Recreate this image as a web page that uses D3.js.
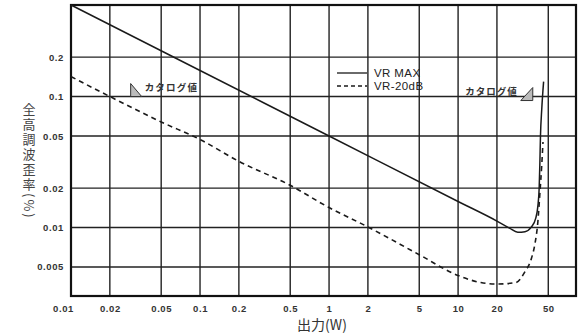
<!DOCTYPE html>
<html><head><meta charset="utf-8">
<script src="https://cdn.jsdelivr.net/npm/d3@7"></script>
<style>body{margin:0;background:#fff;}svg{display:block;}</style>
</head><body>
<svg id="c" width="583" height="335"></svg>
<script>
// ---- data ----
const xTicks = [0.01, 0.02, 0.05, 0.1, 0.2, 0.5, 1, 2, 5, 10, 20, 50];
const xTickLabels = ["0.01","0.02","0.05","0.1","0.2","0.5","1","2","5","10","20","50"];
const yTicks = [0.2, 0.1, 0.05, 0.02, 0.01, 0.005];
const yTickLabels = ["0.2","0.1","0.05","0.02","0.01","0.005"];
const seriesNames = ["VR MAX", "VR-20dB"];
const vrMaxX = [0.01, 0.1, 1, 10, 20, 25, 29, 33, 37, 40, 41.5, 42.5, 43, 43.5, 44.5, 46];
const vrMaxY = [0.5, 0.158, 0.05, 0.0158, 0.0112, 0.0099, 0.0092, 0.0093, 0.0101, 0.0118, 0.0145, 0.02, 0.03, 0.05, 0.08, 0.13];
const vr20X = [0.01, 0.02, 0.05, 0.1, 0.2, 0.5, 1, 2, 5, 10, 15, 20, 28, 33, 37, 39.5, 41.5, 43, 44.5, 45.5];
const vr20Y = [0.142, 0.1, 0.064, 0.047, 0.032, 0.021, 0.0142, 0.0101, 0.0062, 0.0043, 0.0038, 0.0037, 0.0038, 0.0046, 0.0058, 0.0076, 0.011, 0.018, 0.03, 0.045];
const catalogNote = "カタログ値";
const catalogPoints = [[0.029, 0.1], [40, 0.1]];
const yTitle = "全高調波歪率(%)";
const xTitle = "出力(W)";

// ---- layout ----
const L = 71, R = 576, T = 5, B = 296;
const svg = d3.select("#c");
const x = d3.scaleLog().domain([0.01, 82]).range([L, R]);
const y = d3.scaleLog().domain([0.003, 0.5]).range([B, T]);
const ink = "#222";
const jp = "'Noto Sans CJK JP', sans-serif";
const lat = "'Liberation Sans', Arial, sans-serif";

// grid
svg.append("g").selectAll("line").data(xTicks.slice(1)).join("line")
  .attr("x1", d => x(d)).attr("x2", d => x(d)).attr("y1", T).attr("y2", B)
  .attr("stroke", ink).attr("stroke-width", 1.4);
svg.append("g").selectAll("line").data(yTicks).join("line")
  .attr("x1", L).attr("x2", R).attr("y1", d => y(d)).attr("y2", d => y(d))
  .attr("stroke", ink).attr("stroke-width", 1.4);

// axes (labels only)
const xAxis = d3.axisBottom(x).tickValues(xTicks)
  .tickFormat((d, i) => xTickLabels[i]).tickSize(0).tickPadding(9);
const gx = svg.append("g").attr("transform", `translate(0,${B})`).call(xAxis);
gx.select(".domain").remove();
gx.selectAll("text").attr("font-family", lat).attr("font-size", 9.5)
  .attr("font-weight", "bold").attr("fill", "#333").attr("letter-spacing", 0.6)
  .attr("dx", (d, i) => i === 0 ? -8 : 0);

const yAxis = d3.axisLeft(y).tickValues(yTicks)
  .tickFormat((d, i) => yTickLabels[i]).tickSize(0).tickPadding(7);
const gy = svg.append("g").attr("transform", `translate(${L},0)`).call(yAxis);
gy.select(".domain").remove();
gy.selectAll("text").attr("font-family", lat).attr("font-size", 9.5)
  .attr("font-weight", "bold").attr("fill", "#333").attr("letter-spacing", 0.6);

// frame
svg.append("rect").attr("x", L).attr("y", T).attr("width", R - L).attr("height", B - T)
  .attr("fill", "none").attr("stroke", "#111").attr("stroke-width", 2.2);

// curves
const line = d3.line().x(d => x(d[0])).y(d => y(d[1])).curve(d3.curveMonotoneX);
svg.append("path").datum(vrMaxX.map((v, i) => [v, vrMaxY[i]]))
  .attr("d", line).attr("fill", "none").attr("stroke", "#1a1a1a").attr("stroke-width", 1.5);
svg.append("path").datum(vr20X.map((v, i) => [v, vr20Y[i]]))
  .attr("d", line).attr("fill", "none").attr("stroke", "#1a1a1a").attr("stroke-width", 1.6)
  .attr("stroke-dasharray", "5,4");

// legend
const lg = svg.append("g");
lg.append("line").attr("x1", 337).attr("x2", 367).attr("y1", 73).attr("y2", 73)
  .attr("stroke", "#1a1a1a").attr("stroke-width", 1.3);
lg.append("line").attr("x1", 337).attr("x2", 367).attr("y1", 86).attr("y2", 86)
  .attr("stroke", "#1a1a1a").attr("stroke-width", 1.3).attr("stroke-dasharray", "4,3");
lg.selectAll("text").data(seriesNames).join("text")
  .attr("x", 374).attr("y", (d, i) => 77 + i * 13)
  .attr("font-family", lat).attr("font-size", 11.5).attr("letter-spacing", 0.4).attr("fill", "#222")
  .text(d => d);

// catalog annotations
const cL = catalogPoints[0], cR = catalogPoints[1];
const lx = x(cL[0]), ly = y(cL[1]);
svg.append("path").attr("d", `M${lx},${ly - 13}L${lx + 11},${ly}L${lx},${ly}Z`)
  .attr("fill", "#bbb").attr("stroke", "#333").attr("stroke-width", 1);
svg.append("text").attr("x", lx + 14).attr("y", ly - 6).text(catalogNote)
  .attr("font-family", jp).attr("font-size", 9.5).attr("letter-spacing", 1.2)
  .attr("font-weight", "bold").attr("fill", "#333");
const rx = x(cR[0]) - 3, ry = y(cR[1]) + 4;
svg.append("path").attr("d", `M${rx},${ry - 13}L${rx},${ry}L${rx - 12},${ry}Z`)
  .attr("fill", "#bbb").attr("stroke", "#333").attr("stroke-width", 1);
svg.append("text").attr("x", rx - 15).attr("y", ry - 6).attr("text-anchor", "end").text(catalogNote)
  .attr("font-family", jp).attr("font-size", 9.5).attr("letter-spacing", 1)
  .attr("font-weight", "bold").attr("fill", "#333");

// axis titles
svg.append("text").attr("x", 29).attr("y", 103)
  .style("writing-mode", "vertical-rl")
  .attr("font-family", jp).attr("font-size", 13).attr("letter-spacing", 2)
  .attr("fill", "#444").text(yTitle);
svg.append("text").attr("x", 322).attr("y", 330).attr("text-anchor", "middle")
  .attr("font-family", jp).attr("font-size", 14).attr("fill", "#333").text(xTitle);
</script>
</body></html>
